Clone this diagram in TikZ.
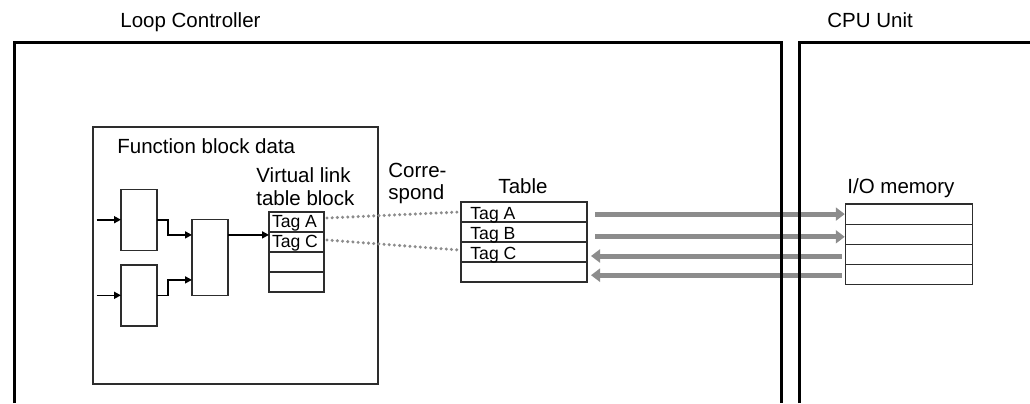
\documentclass[tikz,border=0pt]{standalone}
\usepackage{fontspec}
\setmainfont{Liberation Sans}
\usetikzlibrary{arrows.meta,calc}
\definecolor{arrowgray}{RGB}{140,140,140}
\definecolor{dotgray}{RGB}{140,140,140}
\definecolor{boxline}{RGB}{45,45,45}
\begin{document}
\begin{tikzpicture}[x=0.5pt,y=-0.5pt,
  lbl/.style={font=\fontsize{10.25}{11.5}\selectfont, inner sep=0pt},
  tagtxt/.style={font=\fontsize{8.8}{10}\selectfont, inner sep=0pt, anchor=base west},
  cell/.style={draw=boxline, line width=0.6pt, minimum height=10pt, inner sep=0pt, outer sep=0pt},
  fb/.style={draw=boxline, line width=0.7pt, minimum width=18pt, inner sep=0pt, outer sep=0pt},
  sig/.style={line width=0.8pt, -{Triangle[length=3.5pt,width=3.5pt]}},
  xfer/.style={draw=arrowgray, line width=2.5pt, -{Triangle[length=4.5pt,width=6.5pt]}},
  corr/.style={draw=dotgray, line width=1.7pt, line cap=round, dash pattern=on 0pt off 2.6pt},
  unit/.style={line width=1.5pt}]
\useasboundingbox (0,0) rectangle (1030,403);

% titles
\node[lbl, anchor=base west] (lc) at (120,27) {Loop Controller};
\node[lbl, anchor=base west] (cpu) at (827,27) {CPU Unit};

% function block data
\node[draw=boxline, line width=0.6pt, minimum width=142.5pt, minimum height=128.5pt, inner sep=0pt] (fbd) at (235.5,255.5) {};
\node[lbl, anchor=base west] (fbdl) at (117,153) {Function block data};

\node[fb, minimum height=30.5pt] (b1) at (139,219.7) {};
\node[fb, minimum height=30.5pt] (b2) at (139,295.3) {};
\node[fb, minimum height=38pt] (b3) at (210,257.3) {};

\coordinate (in1) at (96.7,219.7);
\coordinate (in2) at (96.7,295.3);
\draw[sig] (in1) -- (b1.west);
\draw[sig] (in2) -- (b2.west);
\draw[sig] (b1.east) -- ++(11,0) |- ([yshift=11.2pt]b3.west);
\draw[sig] (b2.east) -- ++(11,0) |- ([yshift=-11.3pt]b3.west);

% virtual link table
\node[lbl, anchor=base west, align=left] (vlt) at (256,205) {Virtual link\\table block};
\node[cell, minimum width=27.5pt] (v1) at (296.5,222) {};
\node[cell, minimum width=27.5pt] (v2) at (296.5,242) {};
\node[cell, minimum width=27.5pt] (v3) at (296.5,262) {};
\node[cell, minimum width=27.5pt] (v4) at (296.5,282) {};
\node[tagtxt] (vA) at ([xshift=1.3pt,yshift=2.5pt]v1.south west) {Tag A};
\node[tagtxt] (vC) at ([xshift=1.3pt,yshift=2.5pt]v2.south west) {Tag C};
\draw[sig] ([yshift=11.2pt]b3.east) -- ([yshift=11.2pt]b3.east -| v1.west);

% correspond
\node[lbl, anchor=base west, align=left, font=\fontsize{10.25}{10.9}\selectfont] (corrl) at (388,199.5) {Corre-\\spond};

% table
\node[lbl, anchor=base] (tbl) at (523,193) {Table};
\node[cell, minimum width=63pt] (t1) at (524,212) {};
\node[cell, minimum width=63pt] (t2) at (524,232) {};
\node[cell, minimum width=63pt] (t3) at (524,252) {};
\node[cell, minimum width=63pt] (t4) at (524,272) {};
\node[tagtxt] (tA) at ([xshift=4.5pt,yshift=1.25pt]t1.south west) {Tag A};
\node[tagtxt] (tB) at ([xshift=4.5pt,yshift=1.25pt]t2.south west) {Tag B};
\node[tagtxt] (tC) at ([xshift=4.5pt,yshift=1.25pt]t3.south west) {Tag C};

\draw[corr] ($(v1.east)+(3,-4)$) -- ($(t1.west)+(-2,0)$);
\draw[corr] ($(v2.east)+(3,-2)$) -- ($(t3.west)+(-2,-2)$);

% I/O memory
\node[lbl, anchor=base west] (iol) at (847,193) {I/O memory};
\node[cell, minimum width=63.25pt, minimum height=10.1pt] (io1) at (909,214.1) {};
\node[cell, minimum width=63.25pt, minimum height=10.1pt] (io2) at (909,234.3) {};
\node[cell, minimum width=63.25pt, minimum height=10.1pt] (io3) at (909,254.5) {};
\node[cell, minimum width=63.25pt, minimum height=10.1pt] (io4) at (909,274.7) {};

% transfers
\draw[xfer] ($(t1.east |- io1.west)+(8,0)$) -- ($(io1.west)+(-1,0)$);
\draw[xfer] ($(t2.east |- io2.west)+(8,2.5)$) -- ($(io2.west)+(-1,2.5)$);
\draw[xfer] ($(io3.west)+(-4,1.5)$) -- ($(t3.east |- io3.west)+(4,1.5)$);
\draw[xfer] ($(io4.west)+(-4,0.5)$) -- ($(t4.east |- io4.west)+(4,0.5)$);

% unit outlines
\draw[unit] (14,403) -- (14,42) -- (781,42) -- (781,403);
\draw[unit] (799,403) -- (799,42) -- (1030,42);
\end{tikzpicture}
\end{document}
